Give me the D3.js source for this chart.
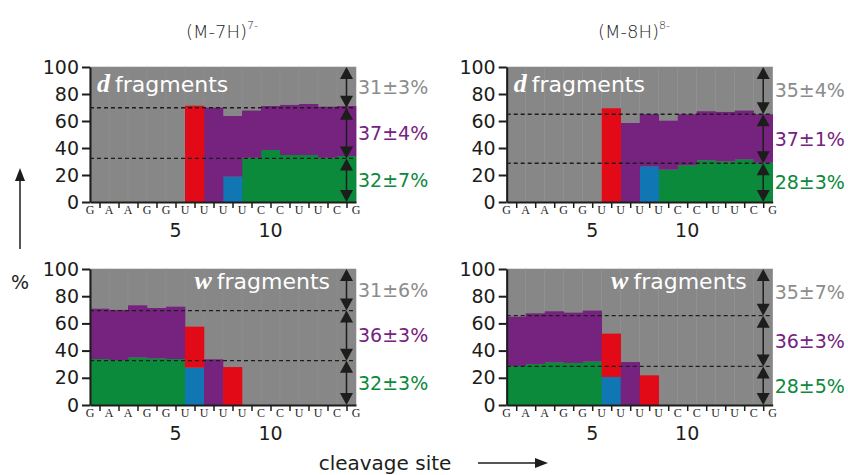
<!DOCTYPE html>
<html>
<head>
<meta charset="utf-8">
<script src="https://cdn.jsdelivr.net/npm/d3@7"></script>
<style>
  body { margin: 0; background: #fff; }
  svg { display: block; }
  .axis path, .axis line { stroke: #1d1d1b; }
  .axis text { font-family: "DejaVu Sans", sans-serif; fill: #1d1d1b; }
</style>
</head>
<body>
<svg id="chart" width="848" height="475"></svg>
<script>
// nucleotide sequence, cleavage sites sit between neighbours
var nucleotides = ["G", "A", "A", "G", "G", "U", "U", "U", "U", "C", "C", "U", "U", "C", "G"];
var sites = [1, 2, 3, 4, 5, 6, 7, 8, 9, 10, 11, 12, 13, 14];
var siteTicks = [5, 10];
var yTicks = [0, 20, 40, 60, 80, 100];

// (M-7H)7- d fragments, % per site
var d7Green  = [0, 0, 0, 0, 0, 0, 0, 0, 32.8, 38.5, 34.8, 34.8, 32.8, 34.1];
var d7Blue   = [0, 0, 0, 0, 0, 0, 0, 18.8, 0, 0, 0, 0, 0, 0];
var d7Purple = [0, 0, 0, 0, 0, 0, 69.9, 44.9, 34.9, 32.6, 37.1, 37.8, 37.8, 37.0];
var d7Red    = [0, 0, 0, 0, 0, 71.3, 0, 0, 0, 0, 0, 0, 0, 0];

// (M-8H)8- d fragments
var d8Green  = [0, 0, 0, 0, 0, 0, 0, 0, 24.0, 27.2, 30.9, 30.1, 31.6, 29.1];
var d8Blue   = [0, 0, 0, 0, 0, 0, 0, 26.4, 0, 0, 0, 0, 0, 0];
var d8Purple = [0, 0, 0, 0, 0, 0, 58.5, 38.6, 36.2, 37.8, 36.3, 36.6, 36.1, 35.9];
var d8Red    = [0, 0, 0, 0, 0, 69.4, 0, 0, 0, 0, 0, 0, 0, 0];

// (M-7H)7- w fragments
var w7Green  = [33.8, 33.1, 35.0, 34.3, 33.8, 0, 0, 0, 0, 0, 0, 0, 0, 0];
var w7Blue   = [0, 0, 0, 0, 0, 27.5, 0, 0, 0, 0, 0, 0, 0, 0];
var w7Purple = [37.0, 36.8, 38.3, 37.0, 38.5, 0, 33.6, 0, 0, 0, 0, 0, 0, 0];
var w7Red    = [0, 0, 0, 0, 0, 30.1, 0, 27.9, 0, 0, 0, 0, 0, 0];

// (M-8H)8- w fragments
var w8Green  = [28.7, 30.1, 31.4, 30.9, 31.9, 0, 0, 0, 0, 0, 0, 0, 0, 0];
var w8Blue   = [0, 0, 0, 0, 0, 20.6, 0, 0, 0, 0, 0, 0, 0, 0];
var w8Purple = [36.2, 37.3, 37.5, 37.0, 37.5, 0, 31.6, 0, 0, 0, 0, 0, 0, 0];
var w8Red    = [0, 0, 0, 0, 0, 31.9, 0, 21.8, 0, 0, 0, 0, 0, 0];

// average levels (green top, purple top) and the quoted shares
var d7Levels = [32.3, 69.8];
var d8Levels = [28.7, 65.0];
var w7Levels = [32.6, 69.4];
var w8Levels = [28.4, 65.7];
var d7Shares = ["31±3%", "37±4%", "32±7%"];
var d8Shares = ["35±4%", "37±1%", "28±3%"];
var w7Shares = ["31±6%", "36±3%", "32±3%"];
var w8Shares = ["35±7%", "36±3%", "28±5%"];

var colors = {
    gray: "#878787",
    green: "#0b8a3b",
    blue: "#1076b4",
    purple: "#76227f",
    red: "#e30a18",
    grayText: "#8c8c8c",
    ink: "#1d1d1b"
};
var keys = ["green", "blue", "purple", "red"];
var sans = "'DejaVu Sans', sans-serif";
var serif = "'Liberation Serif', serif";

var svg = d3.select("#chart");

function rows(green, blue, purple, red) {
    return sites.map(function (s, i) {
        return { site: s, green: green[i], blue: blue[i], purple: purple[i], red: red[i] };
    });
}

var panels = [
    { left: 90, top: 67, bottom: 202, letter: "d", data: rows(d7Green, d7Blue, d7Purple, d7Red), levels: d7Levels, shares: d7Shares },
    { left: 506.7, top: 67, bottom: 202, letter: "d", data: rows(d8Green, d8Blue, d8Purple, d8Red), levels: d8Levels, shares: d8Shares },
    { left: 90, top: 269, bottom: 405, letter: "w", data: rows(w7Green, w7Blue, w7Purple, w7Red), levels: w7Levels, shares: w7Shares },
    { left: 506.7, top: 269, bottom: 405, letter: "w", data: rows(w8Green, w8Blue, w8Purple, w8Red), levels: w8Levels, shares: w8Shares }
];

var stack = d3.stack().keys(keys);

function arrowHeads(g, x, yTop, yBottom) {
    var hw = 6.5, hh = 12;
    g.append("line")
        .attr("x1", x).attr("x2", x)
        .attr("y1", yTop + 2).attr("y2", yBottom - 2)
        .attr("stroke", colors.ink).attr("stroke-width", 1.5);
    g.append("path")
        .attr("d", "M" + x + "," + yTop + "L" + (x - hw) + "," + (yTop + hh) + "L" + (x + hw) + "," + (yTop + hh) + "Z")
        .attr("fill", colors.ink);
    g.append("path")
        .attr("d", "M" + x + "," + yBottom + "L" + (x - hw) + "," + (yBottom - hh) + "L" + (x + hw) + "," + (yBottom - hh) + "Z")
        .attr("fill", colors.ink);
}

function drawPanel(p) {
    var width = 266;
    var x = d3.scaleLinear().domain([0.5, 14.5]).range([p.left, p.left + width]);
    var y = d3.scaleLinear().domain([0, 100]).range([p.bottom, p.top]);
    var bw = x(1) - x(0);
    var g = svg.append("g");

    // gray background bars, one per site
    g.selectAll(".bg")
        .data(p.data)
        .enter().append("rect")
        .attr("class", "bg")
        .attr("x", function (d) { return x(d.site - 0.5); })
        .attr("y", y(100))
        .attr("width", bw)
        .attr("height", y(0) - y(100))
        .attr("fill", colors.gray)
        .attr("stroke", "#8f8f8f")
        .attr("stroke-width", 0.6);

    var layers = stack(p.data);
    g.selectAll(".layer")
        .data(layers)
        .enter().append("g")
        .attr("fill", function (d) { return colors[d.key]; })
        .selectAll("rect")
        .data(function (d) { return d.filter(function (v) { return v[1] - v[0] > 0; }); })
        .enter().append("rect")
        .attr("x", function (d) { return x(d.data.site - 0.5); })
        .attr("y", function (d) { return y(d[1]); })
        .attr("width", bw + 0.3)
        .attr("height", function (d) { return y(d[0]) - y(d[1]); });

    // dashed average levels
    g.selectAll(".level")
        .data(p.levels)
        .enter().append("line")
        .attr("x1", p.left).attr("x2", p.left + width)
        .attr("y1", function (d) { return y(d); })
        .attr("y2", function (d) { return y(d); })
        .attr("stroke", colors.ink)
        .attr("stroke-width", 1.3)
        .attr("stroke-dasharray", "4,3");

    // double arrows over the last site
    var ax = x(14);
    var bounds = [0, p.levels[0], p.levels[1], 100];
    for (var i = 0; i < 3; i++) {
        arrowHeads(g, ax, y(bounds[i + 1]), y(bounds[i]));
    }

    // shares, centred on each band
    var shareColors = [colors.grayText, colors.purple, colors.green];
    var mids = [(bounds[3] + bounds[2]) / 2, (bounds[2] + bounds[1]) / 2, (bounds[1] + bounds[0]) / 2];
    g.selectAll(".share")
        .data(p.shares)
        .enter().append("text")
        .attr("x", p.left + width + 2)
        .attr("y", function (d, i) { return y(mids[i]); })
        .attr("dy", "0.36em")
        .attr("font-family", sans)
        .attr("font-size", 19)
        .attr("fill", function (d, i) { return shareColors[i]; })
        .text(function (d) { return d; });

    // axes
    var yAxis = d3.axisLeft(y).tickValues(yTicks).tickSize(8).tickPadding(3).tickSizeOuter(0);
    var ya = g.append("g").attr("class", "axis")
        .attr("transform", "translate(" + p.left + ",0)")
        .call(yAxis);
    ya.selectAll("text").attr("font-size", 19);
    ya.selectAll("path, line").attr("stroke-width", 2);

    var xAxis = d3.axisBottom(x).tickValues(sites).tickSize(6).tickSizeOuter(0).tickFormat("");
    var xa = g.append("g").attr("class", "axis")
        .attr("transform", "translate(0," + p.bottom + ")")
        .call(xAxis);
    xa.select("path").attr("stroke-width", 2);
    xa.selectAll("line").attr("stroke-width", 1.5);

    g.selectAll(".nt")
        .data(nucleotides)
        .enter().append("text")
        .attr("x", function (d, i) { return x(i + 0.5); })
        .attr("y", p.bottom + 12)
        .attr("text-anchor", "middle")
        .attr("font-family", serif)
        .attr("font-size", 12)
        .attr("fill", colors.ink)
        .text(function (d) { return d; });

    g.selectAll(".siteNum")
        .data(siteTicks)
        .enter().append("text")
        .attr("x", function (d) { return x(d); })
        .attr("y", p.bottom + 35)
        .attr("text-anchor", "middle")
        .attr("font-family", sans)
        .attr("font-size", 19)
        .attr("fill", colors.ink)
        .text(function (d) { return d; });

    // fragment type label
    var label = g.append("text")
        .attr("fill", "#fff")
        .attr("font-size", 22);
    if (p.letter === "d") {
        label.attr("x", p.left + 7).attr("y", p.top + 25);
    } else {
        label.attr("x", p.left + 240).attr("y", p.top + 20).attr("text-anchor", "end");
    }
    label.append("tspan")
        .attr("font-family", serif)
        .attr("font-style", "italic")
        .attr("font-weight", "bold")
        .attr("font-size", 26)
        .text(p.letter);
    label.append("tspan")
        .attr("font-family", sans)
        .attr("dx", 5)
        .text("fragments");
}

panels.forEach(drawPanel);

// column titles
var titles = [{ x: 222, ion: "(M-7H)", charge: "7-" }, { x: 634, ion: "(M-8H)", charge: "8-" }];
titles.forEach(function (t) {
    var txt = svg.append("text")
        .attr("x", t.x).attr("y", 38)
        .attr("text-anchor", "middle")
        .attr("font-family", sans)
        .attr("font-weight", 300)
        .attr("font-size", 18)
        .attr("fill", colors.ink);
    txt.append("tspan").text(t.ion);
    txt.append("tspan").attr("font-size", 11).attr("dy", -9).text(t.charge);
});

// y label with arrow
svg.append("text")
    .attr("x", 20).attr("y", 289)
    .attr("text-anchor", "middle")
    .attr("font-family", sans)
    .attr("font-size", 19)
    .attr("fill", colors.ink)
    .text("%");
svg.append("line")
    .attr("x1", 20).attr("x2", 20).attr("y1", 249).attr("y2", 180)
    .attr("stroke", colors.ink).attr("stroke-width", 1.5);
svg.append("path")
    .attr("d", "M20,168L15,181L25,181Z")
    .attr("fill", colors.ink);

// x label with arrow
svg.append("text")
    .attr("x", 385).attr("y", 463)
    .attr("dy", "0.36em")
    .attr("text-anchor", "middle")
    .attr("font-family", sans)
    .attr("font-size", 20)
    .attr("fill", colors.ink)
    .text("cleavage site");
svg.append("line")
    .attr("x1", 478).attr("x2", 536).attr("y1", 463).attr("y2", 463)
    .attr("stroke", colors.ink).attr("stroke-width", 1.5);
svg.append("path")
    .attr("d", "M548,463L535,458L535,468Z")
    .attr("fill", colors.ink);
</script>
</body>
</html>
